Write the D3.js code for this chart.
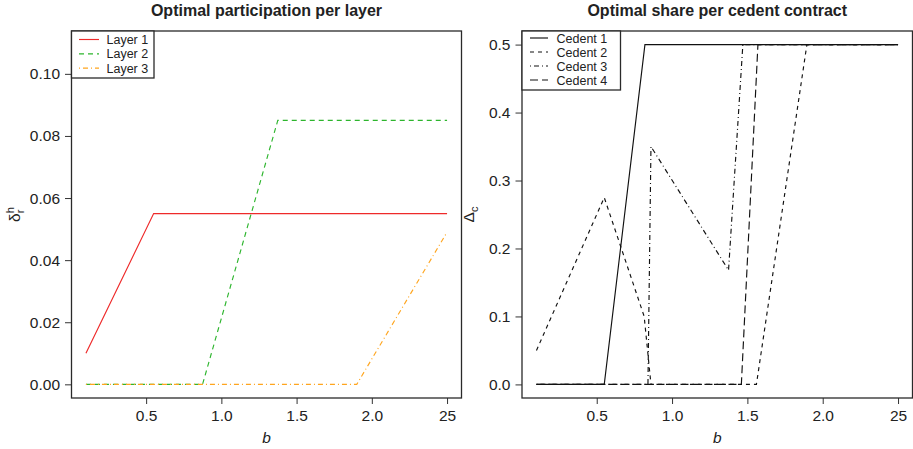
<!DOCTYPE html>
<html>
<head>
<meta charset="utf-8">
<script src="https://cdn.jsdelivr.net/npm/d3@7"></script>
<style>
  html, body { margin: 0; padding: 0; background: #fff; }
  svg { display: block; font-family: "Liberation Sans", Arial, Helvetica, sans-serif; }
</style>
</head>
<body>
<svg id="chart" width="913" height="449"></svg>
<script>
// ---- Data ---------------------------------------------------------------
// Left panel: optimal participation per layer (delta_r^h) against b
const layerNames = ["Layer 1", "Layer 2", "Layer 3"];
const layer1B = [0.1, 0.55, 2.5];
const layer1 = [0.01, 0.055, 0.055];
const layer2B = [0.1, 0.875, 1.375, 2.5];
const layer2 = [0, 0, 0.085, 0.085];
const layer3B = [0.1, 1.9, 2.5];
const layer3 = [0, 0, 0.049];

// Right panel: optimal share per cedent contract (Delta_c) against b
const cedentNames = ["Cedent 1", "Cedent 2", "Cedent 3", "Cedent 4"];
const cedent1B = [0.1, 0.55, 0.82, 2.5];
const cedent1 = [0, 0, 0.5, 0.5];
const cedent2B = [0.1, 0.55, 0.815, 0.86, 1.56, 1.895, 2.5];
const cedent2 = [0.05, 0.275, 0.1, 0, 0, 0.5, 0.5];
const cedent3B = [0.1, 0.84, 0.86, 1.375, 1.47, 2.5];
const cedent3 = [0, 0, 0.35, 0.168, 0.5, 0.5];
const cedent4B = [0.1, 1.46, 1.57, 2.5];
const cedent4 = [0, 0, 0.5, 0.5];

// Axis ticks
const xTicks = [0.5, 1.0, 1.5, 2.0, 2.5];
const xTickLabels = ["0.5", "1.0", "1.5", "2.0", "25"];
const leftYTicks = [0, 0.02, 0.04, 0.06, 0.08, 0.10];
const rightYTicks = [0, 0.1, 0.2, 0.3, 0.4, 0.5];

// ---- Drawing ------------------------------------------------------------
const svg = d3.select("#chart");
const FONT = 15.5;
const LEGEND_FONT = 12.5;

function zipSeries(bs, vs) { return bs.map((b, i) => ({ b: b, v: vs[i] })); }

function drawPanel(cfg) {
  const x = d3.scaleLinear().domain([0.004, 2.596]).range([cfg.left, cfg.right]);
  const y = d3.scaleLinear().domain(cfg.yDomain).range([cfg.bottom, cfg.top]);
  const g = svg.append("g");

  // series
  const line = d3.line().x(d => x(d.b)).y(d => y(d.v));
  cfg.series.forEach(s => {
    g.append("path")
      .datum(zipSeries(s.b, s.v))
      .attr("d", line)
      .attr("fill", "none")
      .attr("stroke", s.color)
      .attr("stroke-width", 1.15)
      .attr("stroke-dasharray", s.dash || null);
  });

  // y axis
  const yAxis = d3.axisLeft(y).tickValues(cfg.yTicks).tickFormat(d3.format(cfg.yFormat))
    .tickSize(6.5).tickPadding(5);
  const ya = g.append("g").attr("transform", `translate(${cfg.left},0)`).call(yAxis);
  ya.select(".domain").remove();
  ya.selectAll("line").attr("stroke", "#333").attr("stroke-width", 1);
  ya.selectAll("text").attr("font-size", FONT).attr("fill", "#222")
    .attr("font-family", "'Liberation Sans', Arial, sans-serif");

  // x axis
  const xAxis = d3.axisBottom(x).tickValues(xTicks)
    .tickFormat((d, i) => xTickLabels[i]).tickSize(6).tickPadding(6);
  const xa = g.append("g").attr("transform", `translate(0,${cfg.bottom})`).call(xAxis);
  xa.select(".domain").remove();
  xa.selectAll("line").attr("stroke", "#333").attr("stroke-width", 1);
  xa.selectAll("text").attr("font-size", FONT).attr("fill", "#222")
    .attr("font-family", "'Liberation Sans', Arial, sans-serif");

  // frame
  g.append("rect")
    .attr("x", cfg.left).attr("y", cfg.top)
    .attr("width", cfg.right - cfg.left).attr("height", cfg.bottom - cfg.top)
    .attr("fill", "none").attr("stroke", "#2a2a2a").attr("stroke-width", 1.3);

  // title
  g.append("text")
    .attr("x", (cfg.left + cfg.right) / 2).attr("y", 15.5)
    .attr("text-anchor", "middle").attr("font-weight", "bold")
    .attr("font-size", 16).attr("fill", "#222")
    .text(cfg.title);

  // x label
  g.append("text")
    .attr("x", (cfg.left + cfg.right) / 2).attr("y", 443)
    .attr("text-anchor", "middle").attr("font-style", "italic")
    .attr("font-size", FONT).attr("fill", "#222")
    .text("b");

  // y label
  const yl = g.append("text")
    .attr("transform", `translate(${cfg.yLabelX},${(cfg.top + cfg.bottom) / 2}) rotate(-90)`)
    .attr("text-anchor", "middle").attr("font-size", FONT).attr("fill", "#222");
  cfg.yLabel(yl);

  // legend
  const lg = g.append("g");
  const n = cfg.series.length;
  lg.append("rect")
    .attr("x", cfg.left).attr("y", cfg.top)
    .attr("width", cfg.legendW).attr("height", cfg.legendH)
    .attr("fill", "#fff").attr("stroke", "#2a2a2a").attr("stroke-width", 1.3);
  cfg.series.forEach((s, i) => {
    const ry = cfg.legendRow0 + i * cfg.legendStep;
    lg.append("line")
      .attr("x1", cfg.left + cfg.legendLine[0]).attr("x2", cfg.left + cfg.legendLine[1])
      .attr("y1", ry).attr("y2", ry)
      .attr("stroke", s.color).attr("stroke-width", 1.15)
      .attr("stroke-dasharray", s.dash || null);
    lg.append("text")
      .attr("x", cfg.left + cfg.legendText).attr("y", ry)
      .attr("dy", "0.36em").attr("font-size", LEGEND_FONT).attr("fill", "#222")
      .text(s.name);
  });
}

drawPanel({
  left: 71.5, right: 461.5, top: 31, bottom: 398,
  yDomain: [-0.0044, 0.1138], yTicks: leftYTicks, yFormat: ".2f",
  title: "Optimal participation per layer",
  yLabelX: 20,
  yLabel: t => {
    t.append("tspan").text("δ");
    t.append("tspan").attr("font-size", 11).attr("dy", "-0.55em").text("h");
    t.append("tspan").attr("font-size", 11).attr("dx", "-0.55em").attr("dy", "0.95em").text("r");
  },
  series: [
    { name: layerNames[0], b: layer1B, v: layer1, color: "#ee2a2a" },
    { name: layerNames[1], b: layer2B, v: layer2, color: "#2db52d", dash: "5,4" },
    { name: layerNames[2], b: layer3B, v: layer3, color: "#ffa51e", dash: "1,3,5,3" }
  ],
  legendW: 82.5, legendH: 47, legendRow0: 39.5, legendStep: 14.3,
  legendLine: [7.5, 27.5], legendText: 35
});

drawPanel({
  left: 522, right: 912.5, top: 31, bottom: 398,
  yDomain: [-0.02, 0.52], yTicks: rightYTicks, yFormat: ".1f",
  title: "Optimal share per cedent contract",
  yLabelX: 474,
  yLabel: t => {
    t.append("tspan").text("Δ");
    t.append("tspan").attr("font-size", 11).attr("dy", "0.35em").text("c");
  },
  series: [
    { name: cedentNames[0], b: cedent1B, v: cedent1, color: "#111" },
    { name: cedentNames[1], b: cedent2B, v: cedent2, color: "#111", dash: "4,4" },
    { name: cedentNames[2], b: cedent3B, v: cedent3, color: "#111", dash: "1,3,5,3" },
    { name: cedentNames[3], b: cedent4B, v: cedent4, color: "#111", dash: "8,4" }
  ],
  legendW: 98.5, legendH: 59, legendRow0: 38, legendStep: 14,
  legendLine: [8, 26], legendText: 34.5
});
</script>
</body>
</html>
